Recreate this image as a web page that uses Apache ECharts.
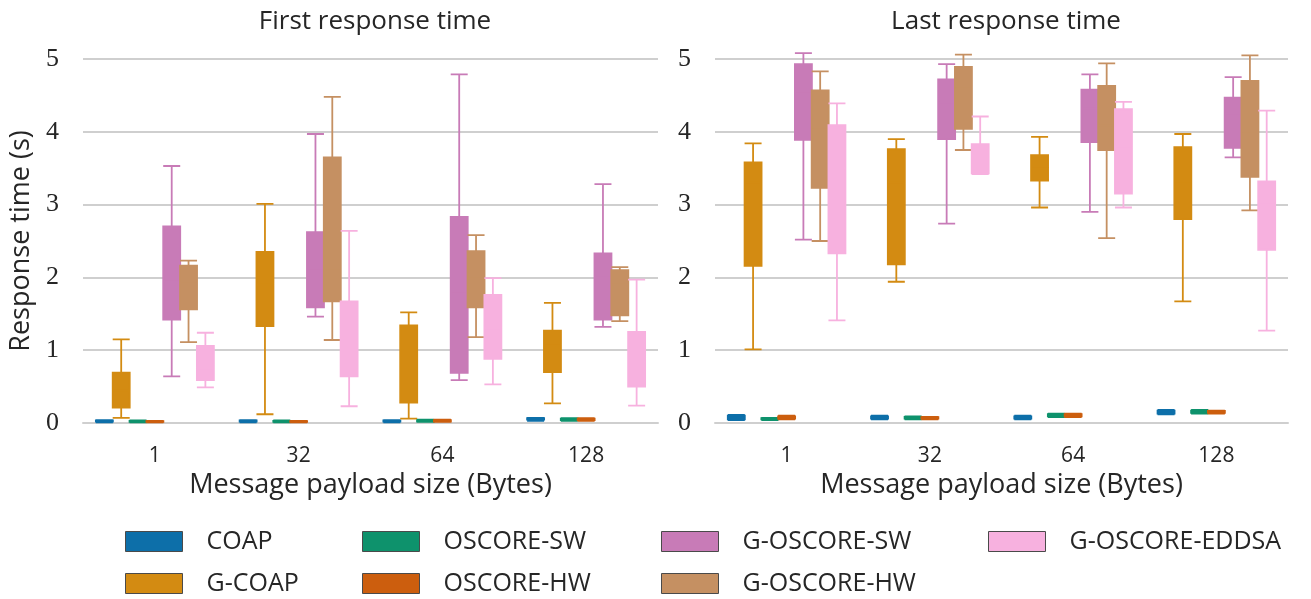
<!DOCTYPE html>
<html>
<head>
<meta charset="utf-8">
<script src="https://cdn.jsdelivr.net/npm/echarts@6/dist/echarts.min.js"></script>
<style>
  html, body { margin: 0; padding: 0; background: #fff; }
  #chart { width: 1311px; height: 599px; }
</style>
</head>
<body>
<div id="chart"></div>
<script>
// payload sizes on the x axis
const categories = ['1', '32', '64', '128'];
const yTicks = [0, 1, 2, 3, 4, 5];

const seriesNames = ['COAP', 'G-COAP', 'OSCORE-SW', 'OSCORE-HW', 'G-OSCORE-SW', 'G-OSCORE-HW', 'G-OSCORE-EDDSA'];
const seriesColors = ['#0D6FA9', '#D38B12', '#0E926C', '#CC5E0E', '#C87BB7', '#C59062', '#F7B1DF'];

// [min, Q1, median, Q3, max] per payload size — first response time (s)
const firstCoap       = [[0.01, 0.02, 0.025, 0.035, 0.04], [0.01, 0.02, 0.025, 0.035, 0.04], [0.01, 0.02, 0.025, 0.035, 0.04], [0.03, 0.045, 0.05, 0.065, 0.07]];
const firstGCoap      = [[0.07, 0.21, 0.45, 0.69, 1.15], [0.12, 1.33, 1.9, 2.35, 3.01], [0.06, 0.28, 0.9, 1.34, 1.52], [0.27, 0.70, 1.07, 1.27, 1.65]];
const firstOscoreSw   = [[0.01, 0.015, 0.02, 0.03, 0.035], [0.01, 0.015, 0.02, 0.03, 0.035], [0.015, 0.02, 0.03, 0.04, 0.045], [0.03, 0.04, 0.05, 0.06, 0.065]];
const firstOscoreHw   = [[0.01, 0.015, 0.02, 0.025, 0.03], [0.01, 0.015, 0.02, 0.025, 0.03], [0.015, 0.02, 0.03, 0.04, 0.045], [0.03, 0.04, 0.05, 0.06, 0.065]];
const firstGOscoreSw  = [[0.64, 1.42, 1.95, 2.70, 3.53], [1.46, 1.59, 2.1, 2.62, 3.97], [0.59, 0.69, 1.8, 2.83, 4.79], [1.32, 1.42, 2.0, 2.33, 3.28]];
const firstGOscoreHw  = [[1.11, 1.56, 1.92, 2.16, 2.23], [1.14, 1.67, 2.1, 3.65, 4.48], [1.18, 1.59, 1.99, 2.36, 2.58], [1.40, 1.48, 1.9, 2.10, 2.14]];
const firstEddsa      = [[0.49, 0.59, 0.75, 1.06, 1.24], [0.23, 0.64, 1.1, 1.67, 2.64], [0.53, 0.88, 1.3, 1.76, 1.99], [0.24, 0.50, 0.9, 1.25, 1.97]];

// last response time (s)
const lastCoap        = [[0.04, 0.05, 0.07, 0.1, 0.11], [0.05, 0.06, 0.07, 0.09, 0.1], [0.05, 0.06, 0.07, 0.09, 0.1], [0.12, 0.13, 0.15, 0.17, 0.18]];
const lastGCoap       = [[1.01, 2.16, 3.3, 3.58, 3.84], [1.94, 2.18, 3.3, 3.76, 3.90], [2.96, 3.33, 3.5, 3.68, 3.93], [1.67, 2.80, 3.32, 3.79, 3.97]];
const lastOscoreSw    = [[0.04, 0.05, 0.055, 0.065, 0.07], [0.05, 0.06, 0.07, 0.085, 0.09], [0.08, 0.09, 0.10, 0.12, 0.13], [0.13, 0.14, 0.15, 0.17, 0.18]];
const lastOscoreHw    = [[0.05, 0.06, 0.07, 0.09, 0.1], [0.05, 0.06, 0.07, 0.08, 0.085], [0.08, 0.09, 0.1, 0.12, 0.13], [0.13, 0.14, 0.15, 0.165, 0.17]];
const lastGOscoreSw   = [[2.52, 3.89, 4.55, 4.93, 5.08], [2.74, 3.90, 4.4, 4.72, 4.93], [2.90, 3.86, 4.32, 4.58, 4.79], [3.65, 3.78, 4.25, 4.47, 4.75]];
const lastGOscoreHw   = [[2.50, 3.23, 4.03, 4.57, 4.83], [3.75, 4.04, 4.6, 4.89, 5.06], [2.54, 3.75, 4.09, 4.63, 4.94], [2.92, 3.38, 4.0, 4.70, 5.05]];
const lastEddsa       = [[1.41, 2.33, 3.5, 4.09, 4.39], [3.42, 3.43, 3.45, 3.83, 4.21], [2.96, 3.15, 3.8, 4.31, 4.41], [1.27, 2.38, 3.0, 3.32, 4.29]];

const firstData = [firstCoap, firstGCoap, firstOscoreSw, firstOscoreHw, firstGOscoreSw, firstGOscoreHw, firstEddsa];
const lastData = [lastCoap, lastGCoap, lastOscoreSw, lastOscoreHw, lastGOscoreSw, lastGOscoreHw, lastEddsa];

const sansFont = '"Open Sans", Lato, sans-serif';
const serifFont = '"Liberation Serif", "DejaVu Serif", serif';
const textColor = '#262626';
const gridGray = '#cfcfcf';

const chart = echarts.init(document.getElementById('chart'), null, { renderer: 'canvas' });

function xAxisFor(idx) {
  return {
    type: 'category', gridIndex: idx, data: categories,
    name: 'Message payload size (Bytes)', nameLocation: 'middle', nameGap: 47,
    nameTextStyle: { fontFamily: sansFont, fontSize: 27, color: textColor },
    axisLine: { show: true, lineStyle: { color: gridGray, width: 2 } },
    axisTick: { show: false },
    axisLabel: { fontFamily: sansFont, fontSize: 21, color: textColor, margin: 23 },
    splitLine: { show: false }
  };
}

function yAxisFor(idx) {
  return {
    type: 'value', gridIndex: idx, min: yTicks[0], max: yTicks[yTicks.length - 1], interval: 1,
    name: idx === 0 ? 'Response time (s)' : '', nameLocation: 'middle', nameGap: 48,
    nameTextStyle: { fontFamily: sansFont, fontSize: 27, color: textColor },
    axisLine: { show: false },
    axisTick: { show: false },
    axisLabel: { fontFamily: serifFont, fontSize: 26, color: textColor, margin: 24 },
    splitLine: { show: true, lineStyle: { color: gridGray, width: 2 } }
  };
}

function boxSeries(panel, dataSet) {
  return seriesNames.map((name, i) => ({
    name: name,
    type: 'boxplot',
    xAxisIndex: panel, yAxisIndex: panel,
    boxWidth: [17, 17],
    itemStyle: { color: seriesColors[i], borderColor: seriesColors[i], borderWidth: 1.8 },
    emphasis: { disabled: true },
    data: dataSet[i]
  }));
}

// legend laid out in 4 columns of 2, column-major like the original
const legendCols = [[0, 1], [2, 3], [4, 5], [6]];
const legendLeft = [120, 357, 656, 983];
const legends = legendCols.map((col, c) => ({
  orient: 'vertical', left: legendLeft[c], top: 524, height: 120,
  itemWidth: 57, itemHeight: 20, itemGap: 17,
  icon: 'rect', selectedMode: false,
  textStyle: { fontFamily: sansFont, fontSize: 25, lineHeight: 20, color: textColor, padding: [0, 0, 0, 19] },
  data: col.map(k => ({ name: seriesNames[k], itemStyle: { borderColor: '#4a4a4a', borderWidth: 1 } }))
}));

chart.setOption({
  animation: false,
  backgroundColor: '#fff',
  title: [
    { text: 'First response time', left: 370, top: 4, textAlign: 'center',
      textStyle: { fontFamily: sansFont, fontSize: 26, fontWeight: 'normal', color: textColor } },
    { text: 'Last response time', left: 1001, top: 4, textAlign: 'center',
      textStyle: { fontFamily: sansFont, fontSize: 26, fontWeight: 'normal', color: textColor } }
  ],
  legend: legends,
  grid: [
    { left: 83, width: 575, top: 59, height: 364 },
    { left: 715, width: 573, top: 59, height: 364 }
  ],
  xAxis: [xAxisFor(0), xAxisFor(1)],
  yAxis: [yAxisFor(0), yAxisFor(1)],
  series: boxSeries(0, firstData).concat(boxSeries(1, lastData))
});
</script>
</body>
</html>
